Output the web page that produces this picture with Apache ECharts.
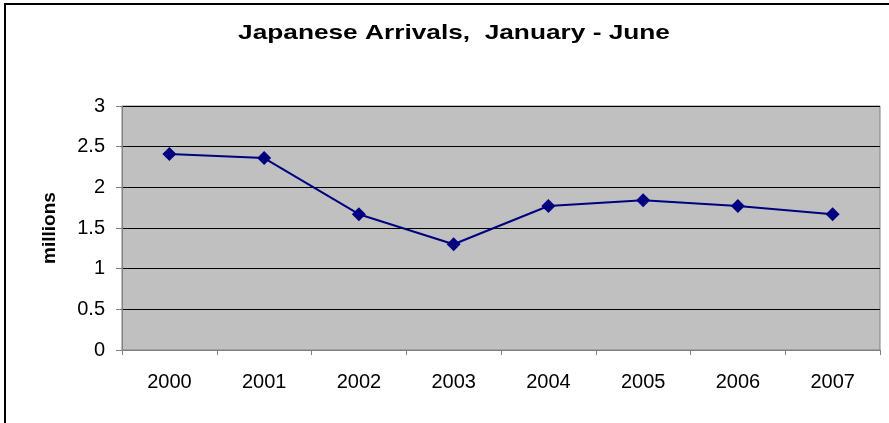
<!DOCTYPE html>
<html>
<head>
<meta charset="utf-8">
<script src="https://cdn.jsdelivr.net/npm/echarts@6/dist/echarts.min.js"></script>
<style>
  html, body { margin: 0; padding: 0; background: #ffffff; }
  #chart { width: 889px; height: 423px; }
</style>
</head>
<body>
<div id="chart"></div>
<script>
// Japanese arrivals, January - June (millions)
const years = ['2000', '2001', '2002', '2003', '2004', '2005', '2006', '2007'];
const arrivals = [2.41, 2.36, 1.67, 1.30, 1.77, 1.84, 1.77, 1.67];
const yTicks = { min: 0, max: 3, step: 0.5 };
const titleText = 'Japanese Arrivals,  January - June';

const font = '"Liberation Sans", Arial, sans-serif';
const chart = echarts.init(document.getElementById('chart'), null, { renderer: 'canvas' });

chart.setOption({
  backgroundColor: '#ffffff',
  animation: false,
  graphic: [
    {
      // outer chart frame
      type: 'rect',
      shape: { x: 5, y: 4, width: 1000, height: 1000 },
      style: { fill: 'none', stroke: '#000000', lineWidth: 2 },
      silent: true
    },
    {
      // chart title, set a little wide like the classic office rendering
      type: 'text',
      x: 454,
      y: 33,
      scaleX: 1.25,
      style: {
        text: titleText,
        font: 'bold 21px ' + font,
        fill: '#000000',
        textAlign: 'center',
        textVerticalAlign: 'middle'
      },
      silent: true
    }
  ],
  grid: {
    left: 122, right: 9, top: 106, bottom: 73,
    show: true,
    backgroundColor: '#c0c0c0',
    borderColor: '#808080',
    borderWidth: 1
  },
  xAxis: {
    type: 'category',
    data: years,
    boundaryGap: true,
    axisLine: { show: true, lineStyle: { color: '#808080', width: 1 } },
    axisTick: { show: true, length: 5, lineStyle: { color: '#808080' } },
    axisLabel: { margin: 22, fontFamily: font, fontSize: 20, color: '#000000' },
    splitLine: { show: false }
  },
  yAxis: {
    type: 'value',
    min: yTicks.min,
    max: yTicks.max,
    interval: yTicks.step,
    name: 'millions',
    nameLocation: 'middle',
    nameRotate: 90,
    nameGap: 63,
    nameTextStyle: { fontFamily: font, fontSize: 19, fontWeight: 'bold', color: '#000000' },
    axisLine: { show: true, lineStyle: { color: '#808080', width: 1 } },
    axisTick: { show: true, length: 6, lineStyle: { color: '#808080' } },
    axisLabel: { margin: 17, fontFamily: font, fontSize: 20, color: '#000000' },
    splitLine: { show: true, lineStyle: { color: '#000000', width: 1 } }
  },
  series: [{
    type: 'line',
    data: arrivals,
    symbol: 'diamond',
    symbolSize: 14,
    lineStyle: { color: '#000080', width: 2 },
    itemStyle: { color: '#000080' }
  }]
});
</script>
</body>
</html>
